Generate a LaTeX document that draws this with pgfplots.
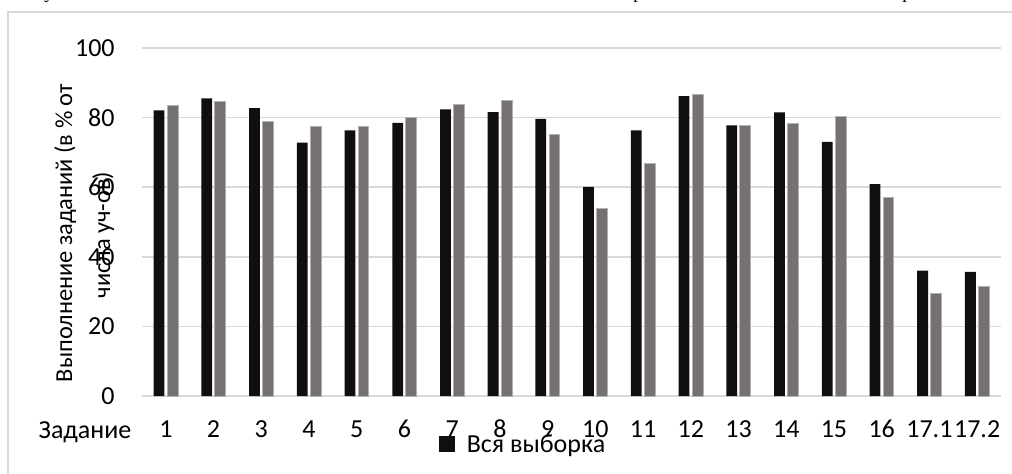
\documentclass[border=0pt]{standalone}
\usepackage{fontspec}
\setmainfont{Carlito}
\newfontfamily\seriffont{Liberation Serif}
\usepackage{pgfplots}
\pgfplotsset{compat=1.18}
\definecolor{barblack}{HTML}{0F0F0F}
\definecolor{bargray}{HTML}{767171}
\definecolor{bargrayedge}{HTML}{B4B0B0}
\definecolor{gridgray}{HTML}{D9D9D9}
\begin{document}
\begin{tikzpicture}
\useasboundingbox (0,0) rectangle (506pt,236.5pt);
% cut-off line of the surrounding text
\begin{scope}[font=\seriffont\fontsize{9.5}{10}\selectfont]
\node[anchor=base,inner sep=0pt] at (24.5pt,237.2pt) {у};
\node[anchor=base,inner sep=0pt] at (77pt,237.8pt) {,};
\node[anchor=base,inner sep=0pt] at (319pt,237.2pt) {р};
\node[anchor=base,inner sep=0pt] at (442.5pt,237.8pt) {,};
\node[anchor=base,inner sep=0pt] at (453.5pt,237.2pt) {р};
\end{scope}
% chart area border
\draw[gridgray, line width=0.75pt] (4pt,-10pt) -- (4pt,230.5pt) -- (520pt,230.5pt);
\begin{axis}[
  at={(71pt,38.5pt)}, anchor=south west,
  scale only axis, width=429.5pt, height=174pt,
  xmin=0.5, xmax=18.5, ymin=0, ymax=100,
  xtick={1,...,18},
  xticklabels={1,2,3,4,5,6,7,8,9,10,11,12,13,14,15,16,17.1,17.2},
  ytick={0,20,...,100},
  axis line style={draw=none},
  major tick length=0pt,
  ymajorgrids, grid style={gridgray, line width=0.75pt},
  /pgf/number format/assume math mode=true,
  tick label style={font=\fontsize{13}{15}\selectfont, inner sep=0pt},
  yticklabel style={anchor=east, xshift=-13.5pt},
  xticklabel style={anchor=base, yshift=-20.5pt},
  ybar, bar width=5.4pt,
  legend style={draw=none, fill=none, inner sep=0pt, at={(0.4447,-0.14)}, anchor=center,
    font=\fontsize{13}{15}\selectfont, cells={anchor=base west},
    /tikz/every odd column/.append style={column sep=4pt}},
  legend image code/.code={\fill[barblack] (0pt,0pt) rectangle (8pt,8pt);},
  clip=false,
]
\addplot[fill=barblack, draw=none, bar shift=-3.4pt] coordinates {
(1,82.1) (2,85.5) (3,82.7) (4,72.8) (5,76.3) (6,78.5) (7,82.4) (8,81.6) (9,79.6)
(10,60.1) (11,76.3) (12,86.2) (13,77.8) (14,81.5) (15,73.0) (16,60.9) (17,36.0) (18,35.7)};
\addlegendentry{Вся выборка}
\addplot[fill=bargray, draw=bargrayedge, line width=0.5pt, bar shift=3.4pt, forget plot] coordinates {
(1,83.5) (2,84.6) (3,78.9) (4,77.4) (5,77.5) (6,79.9) (7,83.8) (8,84.8) (9,75.2)
(10,53.8) (11,66.8) (12,86.7) (13,77.7) (14,78.3) (15,80.4) (16,56.9) (17,29.4) (18,31.6)};
\end{axis}
\node[anchor=base, inner sep=0pt, font=\fontsize{13}{15}\selectfont] at (42.5pt,17.3pt) {Задание};
\node[rotate=90, anchor=base, inner sep=0pt, font=\fontsize{12.2}{14}\selectfont] at (36pt,120pt) {Выполнение заданий (в \% от};
\node[rotate=90, anchor=base, inner sep=0pt, font=\fontsize{12.2}{14}\selectfont] at (55pt,119pt) {числа уч-ов)};
\end{tikzpicture}
\end{document}
